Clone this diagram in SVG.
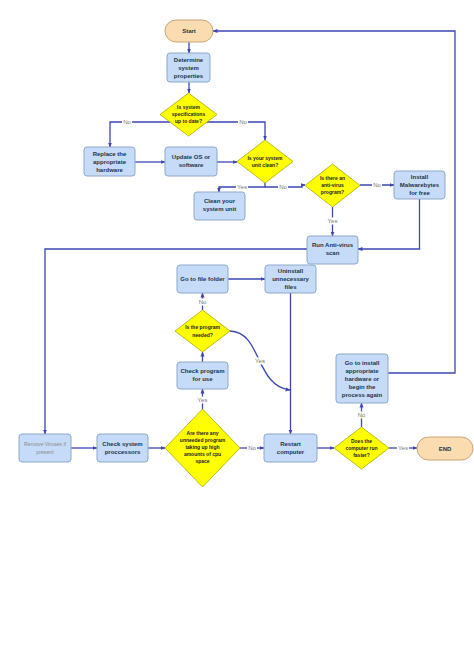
<svg xmlns="http://www.w3.org/2000/svg" width="474" height="670" viewBox="0 0 474 670">
<style>
.box{fill:#c6dbf7;stroke:#8ea8cc;stroke-width:1}
.dia{fill:#ffff00;stroke:#a8a800;stroke-width:0.8}
.term{fill:#fbdcb0;stroke:#c7a477;stroke-width:1}
.t{font-family:"Liberation Sans",Arial,sans-serif;font-size:6px;font-weight:bold;fill:#24344a;text-anchor:middle}
.td{font-family:"Liberation Sans",Arial,sans-serif;font-size:5px;font-weight:bold;fill:#222;text-anchor:middle}
.tg{font-family:"Liberation Sans",Arial,sans-serif;font-size:5.2px;fill:#8a8a8a;text-anchor:middle}
.c{fill:none;stroke:#3d46b3;stroke-width:1.3}
.lb{font-family:"Liberation Sans",Arial,sans-serif;font-size:6px;fill:#777;text-anchor:middle}
.lbg{fill:#fff}
</style>
<defs>
<marker id="ah" viewBox="0 0 10 10" refX="9" refY="5" markerWidth="5" markerHeight="5" orient="auto" markerUnits="userSpaceOnUse">
<path d="M0,1 L10,5 L0,9 z" fill="#3d46b3"/>
</marker>
</defs>
<rect width="474" height="670" fill="#fff"/>
<g id="connectors">
<path class="c" d="M189,42 V53" marker-end="url(#ah)"/>
<path class="c" d="M189,82 V93" marker-end="url(#ah)"/>
<path class="c" d="M170,122 H110 V147" marker-end="url(#ah)"/>
<path class="c" d="M207,122 H265 V140" marker-end="url(#ah)"/>
<path class="c" d="M135,162 H165" marker-end="url(#ah)"/>
<path class="c" d="M217,162 H237" marker-end="url(#ah)"/>
<path class="c" d="M265,183 V187 H219 V192" marker-end="url(#ah)"/>
<path class="c" d="M265,187 H302 V185 H305" marker-end="url(#ah)"/>
<path class="c" d="M360,185 H394" marker-end="url(#ah)"/>
<path class="c" d="M332.5,207 V236" marker-end="url(#ah)"/>
<path class="c" d="M419.5,199 V249 H358" marker-end="url(#ah)"/>
<path class="c" d="M307,249 H45 V434" marker-end="url(#ah)"/>
<path class="c" d="M71,448 H97" marker-end="url(#ah)"/>
<path class="c" d="M148,448 H165" marker-end="url(#ah)"/>
<path class="c" d="M240,448 H264" marker-end="url(#ah)"/>
<path class="c" d="M317,448 H334" marker-end="url(#ah)"/>
<path class="c" d="M389,448 H417" marker-end="url(#ah)"/>
<path class="c" d="M361.5,427 V403" marker-end="url(#ah)"/>
<path class="c" d="M388,373 H455 V31 H213" marker-end="url(#ah)"/>
<path class="c" d="M202.5,409 V389" marker-end="url(#ah)"/>
<path class="c" d="M202.5,362 V352" marker-end="url(#ah)"/>
<path class="c" d="M202.5,310 V293" marker-end="url(#ah)"/>
<path class="c" d="M228,279 H265" marker-end="url(#ah)"/>
<path class="c" d="M290.5,293 V434" marker-end="url(#ah)"/>
<path class="c" d="M230,331 C262,332 255,386 290,390" marker-end="url(#ah)"/>
<g>
<rect class="lbg" x="122" y="118.5" width="10" height="7"/><text class="lb" x="127" y="124.2">No</text>
<rect class="lbg" x="238" y="118.5" width="10" height="7"/><text class="lb" x="243" y="124.2">No</text>
<rect class="lbg" x="236" y="183.5" width="12" height="7"/><text class="lb" x="242" y="189.2">Yes</text>
<rect class="lbg" x="278" y="183.5" width="10" height="7"/><text class="lb" x="283" y="189.2">No</text>
<rect class="lbg" x="372" y="181" width="10" height="7"/><text class="lb" x="377" y="186.7">No</text>
<rect class="lbg" x="326.5" y="217.5" width="12" height="7"/><text class="lb" x="332.5" y="223.2">Yes</text>
<rect class="lbg" x="197.5" y="298.5" width="10" height="7"/><text class="lb" x="202.5" y="304.2">No</text>
<rect class="lbg" x="254" y="357.5" width="12" height="7"/><text class="lb" x="260" y="363.2">Yes</text>
<rect class="lbg" x="196.5" y="396.5" width="12" height="7"/><text class="lb" x="202.5" y="402.2">Yes</text>
<rect class="lbg" x="247" y="444.5" width="10" height="7"/><text class="lb" x="252" y="450.2">No</text>
<rect class="lbg" x="356.5" y="411.5" width="10" height="7"/><text class="lb" x="361.5" y="417.2">No</text>
<rect class="lbg" x="397" y="444.5" width="12" height="7"/><text class="lb" x="403" y="450.2">Yes</text>
</g>
</g>
<g id="start"><rect class="term" x="165" y="20" width="48" height="22" rx="11"/><text class="t" x="189" y="33">Start</text></g>
<g id="determine"><rect class="box" x="167" y="53" width="43" height="29" rx="3"/><text class="t" x="188.5" y="62">Determine</text><text class="t" x="188.5" y="70">system</text><text class="t" x="188.5" y="78">properties</text></g>
<g id="d-specs"><polygon class="dia" points="188.5,93 217,114.5 188.5,136 160,114.5"/><text class="td" x="188.5" y="108.5">Is system</text><text class="td" x="188.5" y="115.5">specifications</text><text class="td" x="188.5" y="122.5">up to date?</text></g>
<g id="replace"><rect class="box" x="84" y="147" width="51" height="29" rx="3"/><text class="t" x="109.5" y="155.5">Replace the</text><text class="t" x="109.5" y="163.5">appropriate</text><text class="t" x="109.5" y="171.5">hardware</text></g>
<g id="update"><rect class="box" x="165" y="147" width="52" height="29" rx="3"/><text class="t" x="191" y="159">Update OS or</text><text class="t" x="191" y="167">software</text></g>
<g id="d-clean"><polygon class="dia" points="265,140 293,161.5 265,183 237,161.5"/><text class="td" x="265" y="159.5">Is your system</text><text class="td" x="265" y="167">unit clean?</text></g>
<g id="clean"><rect class="box" x="194" y="192" width="51" height="28" rx="3"/><text class="t" x="219.5" y="203">Clean your</text><text class="t" x="219.5" y="211">system unit</text></g>
<g id="d-antivirus"><polygon class="dia" points="332.5,164 360,185.5 332.5,207 305,185.5"/><text class="td" x="332.5" y="179.5">Is there an</text><text class="td" x="332.5" y="186.5">anti-virus</text><text class="td" x="332.5" y="193.5">program?</text></g>
<g id="install"><rect class="box" x="394" y="171" width="51" height="28" rx="3"/><text class="t" x="419.5" y="179">Install</text><text class="t" x="419.5" y="187">Malwarebytes</text><text class="t" x="419.5" y="195">for free</text></g>
<g id="run-av"><rect class="box" x="307" y="236" width="51" height="28" rx="3"/><text class="t" x="332.5" y="247">Run Anti-virus</text><text class="t" x="332.5" y="255">scan</text></g>
<g id="file-folder"><rect class="box" x="177" y="265" width="51" height="28" rx="3"/><text class="t" x="202.5" y="281">Go to file folder</text></g>
<g id="uninstall"><rect class="box" x="265" y="265" width="51" height="28" rx="3"/><text class="t" x="290.5" y="273">Uninstall</text><text class="t" x="290.5" y="281">unnecessary</text><text class="t" x="290.5" y="289">files</text></g>
<g id="d-needed"><polygon class="dia" points="202.5,310 230,331 202.5,352 175,331"/><text class="td" x="202.5" y="329">Is the program</text><text class="td" x="202.5" y="336.5">needed?</text></g>
<g id="check-program"><rect class="box" x="177" y="362" width="51" height="27" rx="3"/><text class="t" x="202.5" y="373">Check program</text><text class="t" x="202.5" y="381">for use</text></g>
<g id="go-install"><rect class="box" x="336" y="354" width="52" height="49" rx="3"/><text class="t" x="362" y="364.5">Go to install</text><text class="t" x="362" y="372.5">appropriate</text><text class="t" x="362" y="380.5">hardware or</text><text class="t" x="362" y="388.5">begin the</text><text class="t" x="362" y="396.5">process again</text></g>
<g id="remove"><rect class="box" x="19" y="434" width="52" height="28" rx="3"/><text class="tg" x="45" y="446">Remove Viruses if</text><text class="tg" x="45" y="454">present</text></g>
<g id="check-proc"><rect class="box" x="97" y="434" width="51" height="28" rx="3"/><text class="t" x="122.5" y="446">Check system</text><text class="t" x="122.5" y="454">proccessors</text></g>
<g id="d-cpu"><polygon class="dia" points="202.5,409 240,448 202.5,487 165,448"/><text class="td" x="202.5" y="435">Are there any</text><text class="td" x="202.5" y="442">unneeded program</text><text class="td" x="202.5" y="449">taking up high</text><text class="td" x="202.5" y="456">amounts of cpu</text><text class="td" x="202.5" y="463">space</text></g>
<g id="restart"><rect class="box" x="264" y="434" width="53" height="28" rx="3"/><text class="t" x="290.5" y="446">Restart</text><text class="t" x="290.5" y="454">computer</text></g>
<g id="d-faster"><polygon class="dia" points="361.5,427 389,448 361.5,469 334,448"/><text class="td" x="361.5" y="442.5">Does the</text><text class="td" x="361.5" y="449.5">computer run</text><text class="td" x="361.5" y="456.5">faster?</text></g>
<g id="end"><rect class="term" x="417" y="437" width="56" height="23" rx="11.5"/><text class="t" x="445" y="450.5">END</text></g>
</svg>
